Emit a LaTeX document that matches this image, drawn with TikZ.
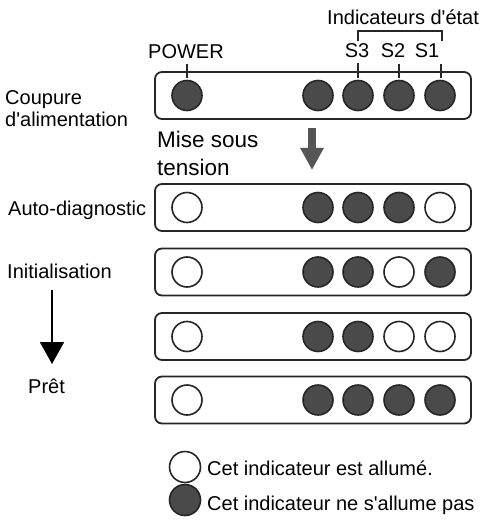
\documentclass[tikz,border=0pt]{standalone}
\usepackage{fontspec}
\setmainfont{Liberation Sans}
\usetikzlibrary{arrows.meta}
\definecolor{ledoff}{HTML}{4A4A4A}
\definecolor{arrowgray}{HTML}{555555}
\begin{document}
\begin{tikzpicture}[x=1pt,y=-1pt,
  lbl/.style={font=\fontsize{20}{22}\selectfont, inner sep=0pt, anchor=base west},
  biglbl/.style={font=\fontsize{22.5}{24}\selectfont, inner sep=0pt, anchor=base west},
  slbl/.style={font=\fontsize{20}{22}\selectfont, inner sep=0pt, anchor=base},
  panel/.style={draw=black!85, line width=1.8pt, rounded corners=7pt, minimum width=316pt, minimum height=47pt, inner sep=0pt},
  on/.style={circle, draw=black!85, line width=1.6pt, fill=white, minimum size=30pt, inner sep=0pt},
  off/.style={on, fill=ledoff},
  tickline/.style={draw=black!85, line width=1.2pt},
]
\useasboundingbox (0,0) rectangle (479,521);

% panels with indicators
\foreach \n/\y/\p/\a/\b/\c/\d in {1/95.5/off/off/off/off/off, 2/207.5/on/off/off/off/on, 3/272/on/off/off/on/off, 4/336.5/on/off/off/on/on, 5/400/on/off/off/off/off} {
  \node[panel] (box\n) at (313,\y) {};
  \node[\p] (pw\n) at (187,\y) {};
  \node[\a] (ix\n) at (318,\y) {};
  \node[\b] (sthree\n) at (358,\y) {};
  \node[\c] (stwo\n) at (399,\y) {};
  \node[\d] (sone\n) at (440,\y) {};
}

% top labels
\node[lbl] (power) at (148,59) {POWER};
\node[slbl] (lS3) at (357,58) {S3};
\node[slbl] (lS2) at (393,58) {S2};
\node[slbl] (lS1) at (427,58) {S1};
\node[lbl] (indic) at (327,25) {Indicateurs d\textquotesingle état};

% ticks
\coordinate (tP1) at (187,64); \coordinate (tP2) at (187,78);
\coordinate (t31) at (358,63); \coordinate (t32) at (358,78);
\coordinate (t21) at (399,64); \coordinate (t22) at (399,78);
\coordinate (t11) at (441,64); \coordinate (t12) at (441,78);
\draw[tickline] (tP1) -- (tP2);
\draw[tickline, line width=1.8pt] (t31) -- (t32);
\draw[tickline] (t21) -- (t22);
\draw[tickline] (t11) -- (t12);

% bracket
\coordinate (b1) at (358,41); \coordinate (b2) at (358,31);
\coordinate (b3) at (442,31); \coordinate (b4) at (442,41);
\draw[draw=black!85, line width=1.6pt] (b1) -- (b2) -- (b3) -- (b4);

% left labels
\node[lbl] (coup) at (5,105) {Coupure};
\node[lbl] (alim) at (5,127) {d\textquotesingle alimentation};
\node[biglbl] (mise) at (157,148) {Mise sous};
\node[biglbl] (tens) at (157,176) {tension};
\node[lbl] (auto) at (8,215) {Auto-diagnostic};
\node[lbl] (init) at (7,278) {Initialisation};
\node[lbl] (pret) at (28,393) {Prêt};

% arrows
\coordinate (ma1) at (312,128); \coordinate (ma2) at (312,170);
\draw[arrowgray, line width=8pt, -{Triangle[width=22pt,length=22pt]}] (ma1) -- (ma2);
\coordinate (ia1) at (52,290); \coordinate (ia2) at (52,364);
\draw[black, line width=1.8pt, -{Triangle[width=24pt,length=22pt]}] (ia1) -- (ia2);

% legend
\node[on, minimum size=31pt] (legon) at (185,467) {};
\node[off, minimum size=31pt] (legoff) at (185,500) {};
\node[lbl] (legontxt) at (207,475) {Cet indicateur est allumé.};
\node[lbl] (legofftxt) at (207,510) {Cet indicateur ne s\textquotesingle allume pas};
\end{tikzpicture}
\end{document}
